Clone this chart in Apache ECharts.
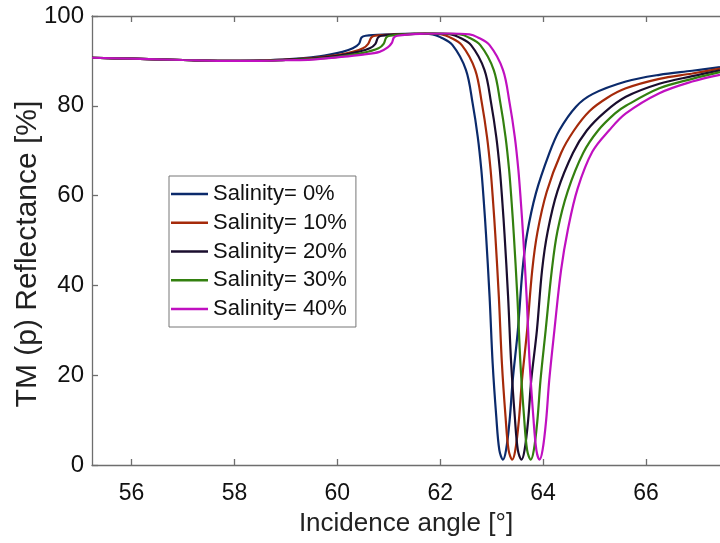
<!DOCTYPE html>
<html>
<head>
<meta charset="utf-8">
<script src="https://cdn.jsdelivr.net/npm/echarts@6/dist/echarts.min.js"></script>
<style>html,body{margin:0;padding:0;background:#fff;}#c{width:720px;height:543px;}</style>
</head>
<body>
<div id="c"></div>
<script>
const seriesNames = ['Salinity= 0%', 'Salinity= 10%', 'Salinity= 20%', 'Salinity= 30%', 'Salinity= 40%'];
const xTicks = [56, 58, 60, 62, 64, 66];
const yTicks = [0, 20, 40, 60, 80, 100];
const xTitle = 'Incidence angle [°]';
const yTitle = 'TM (p) Reflectance [%]';

const sal0 = [[55.23,90.7],[56,90.5],[57,90.2],[58,90.0],[58.5,90.1],[59,90.35],[59.5,90.8],[59.85,91.4],[60.1,92.0],[60.3,92.8],[60.42,93.8],[60.47,95.2],[60.55,95.6],[61.0,95.9],[61.5,96.1],[61.85,95.9],[62.0,95.3],[62.24,93.5],[62.5,88.0],[62.63,80.6],[62.73,73.1],[62.8,65.7],[62.85,58.3],[62.89,51.5],[62.96,37.5],[63.02,22.6],[63.09,10.8],[63.15,3.3],[63.22,1.2],[63.28,3.3],[63.35,10.0],[63.41,18.9],[63.51,30.0],[63.6,43.4],[63.69,51.5],[63.86,60.5],[64.12,69.4],[64.32,74.6],[64.64,79.8],[64.96,82.6],[65.61,85.4],[66.26,86.9],[66.9,87.8],[67.44,88.6]];

const sal10 = [[55.23,90.7],[56,90.5],[57,90.2],[58,90.0],[58.5,90.05],[59,90.3],[59.5,90.6],[60.0,91.3],[60.3,92.0],[60.5,92.8],[60.6,93.8],[60.66,95.2],[60.73,95.6],[61.2,95.9],[61.7,96.1],[62.03,95.9],[62.18,95.3],[62.42,93.5],[62.68,88.0],[62.81,80.6],[62.91,73.1],[62.98,65.7],[63.03,58.3],[63.07,51.5],[63.14,37.5],[63.2,22.6],[63.27,10.8],[63.33,3.3],[63.4,1.2],[63.46,3.3],[63.53,10.0],[63.59,18.9],[63.69,30.0],[63.79,43.4],[63.89,51.8],[64.07,60.8],[64.35,69.5],[64.6,74.5],[64.9,78.8],[65.25,81.8],[65.61,83.9],[66.26,86.0],[66.9,87.2],[67.44,88.3]];

const sal20 = [[55.23,90.7],[56,90.5],[57,90.2],[58,90.0],[58.5,90.0],[59,90.25],[59.5,90.5],[60.0,91.1],[60.4,92.0],[60.63,92.8],[60.74,93.8],[60.79,95.2],[60.86,95.6],[61.3,95.9],[61.85,96.1],[62.21,95.9],[62.36,95.3],[62.6,93.5],[62.86,88.0],[62.99,80.6],[63.09,73.1],[63.16,65.7],[63.21,58.3],[63.25,51.5],[63.32,37.5],[63.38,22.6],[63.45,10.8],[63.51,3.3],[63.58,1.2],[63.64,3.3],[63.71,10.0],[63.77,18.9],[63.88,30.0],[63.98,43.4],[64.09,52.0],[64.28,61.0],[64.58,69.5],[64.85,74.5],[65.2,78.6],[65.61,82.0],[66.26,84.9],[66.9,86.6],[67.44,87.9]];

const sal30 = [[55.23,90.7],[56,90.5],[57,90.2],[58,90.0],[58.5,90.0],[59,90.2],[59.5,90.4],[60.0,90.9],[60.5,91.8],[60.8,92.8],[60.9,93.8],[60.95,95.2],[61.02,95.6],[61.5,96.0],[62.0,96.1],[62.39,95.9],[62.54,95.3],[62.78,93.5],[63.04,88.0],[63.17,80.6],[63.27,73.1],[63.34,65.7],[63.39,58.3],[63.43,51.5],[63.5,37.5],[63.56,22.6],[63.63,10.8],[63.69,3.3],[63.76,1.2],[63.82,3.3],[63.89,10.0],[63.95,18.9],[64.05,30.0],[64.17,43.4],[64.28,52.1],[64.48,61.0],[64.78,69.5],[65.07,74.5],[65.4,78.3],[65.61,80.0],[66.26,83.9],[66.9,86.0],[67.44,87.5]];

const sal40 = [[55.23,90.7],[56,90.5],[57,90.2],[58,90.0],[58.5,90.0],[59,90.15],[59.5,90.3],[60.0,90.8],[60.5,91.4],[60.82,92.0],[60.98,93.0],[61.06,94.0],[61.1,95.2],[61.17,95.6],[61.6,96.0],[62.15,96.1],[62.57,95.9],[62.72,95.3],[62.96,93.5],[63.22,88.0],[63.35,80.6],[63.45,73.1],[63.52,65.7],[63.57,58.3],[63.61,51.5],[63.68,37.5],[63.74,22.6],[63.81,10.8],[63.87,3.3],[63.93,1.2],[63.99,3.3],[64.06,10.0],[64.12,18.9],[64.22,30.0],[64.35,43.4],[64.48,52.3],[64.67,61.5],[64.96,69.8],[65.29,74.6],[65.61,78.3],[66.26,82.8],[66.9,85.4],[67.44,86.9]];

const allData = [sal0, sal10, sal20, sal30, sal40];
const colors = ['#0b2a6b', '#a52a0a', '#1a0d2e', '#33800f', '#c010c0'];

const FONT = '"Liberation Sans", Arial, sans-serif';
const AXIS_COLOR = '#6e6e6e';
const XMIN = 55.23, XMAX = 67.44;

const chart = echarts.init(document.getElementById('c'), null, {renderer: 'canvas'});
const option = {
  backgroundColor: '#fff',
  animation: false,
  grid: {left: 92, right: -1, top: 16, bottom: 78, containLabel: false},
  graphic: [{
    type: 'text', x: 28, y: 254, rotation: Math.PI / 2, silent: true,
    style: {text: yTitle, font: '30px ' + FONT, fill: '#222', align: 'center', verticalAlign: 'middle'}
  }],
  xAxis: [
    {
      type: 'value', position: 'bottom', min: XMIN, max: XMAX,
      name: xTitle, nameLocation: 'middle', nameGap: 46, nameMoveOverlap: false,
      nameTextStyle: {fontFamily: FONT, fontSize: 26, color: '#222'},
      axisLine: {show: true, onZero: false, lineStyle: {color: AXIS_COLOR, width: 1.3}},
      axisTick: {show: true, inside: true, length: 6, lineStyle: {color: AXIS_COLOR, width: 1.3},
        customValues: xTicks},
      axisLabel: {fontFamily: FONT, fontSize: 23, color: '#111', margin: 17, customValues: xTicks,
        formatter: v => String(Math.round(v))},
      splitLine: {show: false}
    },
    {
      type: 'value', position: 'top', min: XMIN, max: XMAX,
      axisLine: {show: true, onZero: false, lineStyle: {color: AXIS_COLOR, width: 1.3}},
      axisTick: {show: true, inside: true, length: 6, lineStyle: {color: AXIS_COLOR, width: 1.3},
        customValues: xTicks},
      axisLabel: {show: false},
      splitLine: {show: false}
    }
  ],
  yAxis: [
    {
      type: 'value', position: 'left', min: 0, max: 100, interval: 20,
      axisLine: {show: true, onZero: false, lineStyle: {color: AXIS_COLOR, width: 1.3}},
      axisTick: {show: true, inside: true, length: 6, lineStyle: {color: AXIS_COLOR, width: 1.3},
        customValues: yTicks},
      axisLabel: {fontFamily: FONT, fontSize: 24, color: '#111', margin: 8, customValues: yTicks},
      splitLine: {show: false}
    }
  ],
  legend: {
    show: true, orient: 'vertical', left: 169, top: 176,
    data: seriesNames,
    icon: 'rect',
    backgroundColor: '#fff', borderColor: '#777', borderWidth: 1,
    padding: [7, 9, 7, 2],
    itemWidth: 37, itemHeight: 2.4, itemGap: 6.75,
    textStyle: {fontFamily: FONT, fontSize: 22, color: '#111', lineHeight: 20}
  },
  series: allData.map((d, i) => ({
    name: seriesNames[i], type: 'line', data: d,
    xAxisIndex: 0, yAxisIndex: 0,
    showSymbol: false, symbol: 'none',
    smooth: 0.35,
    lineStyle: {color: colors[i], width: 2.2},
    itemStyle: {color: colors[i]},
    clip: true, z: 2 + i
  }))
};
chart.setOption(option);
</script>
</body>
</html>
